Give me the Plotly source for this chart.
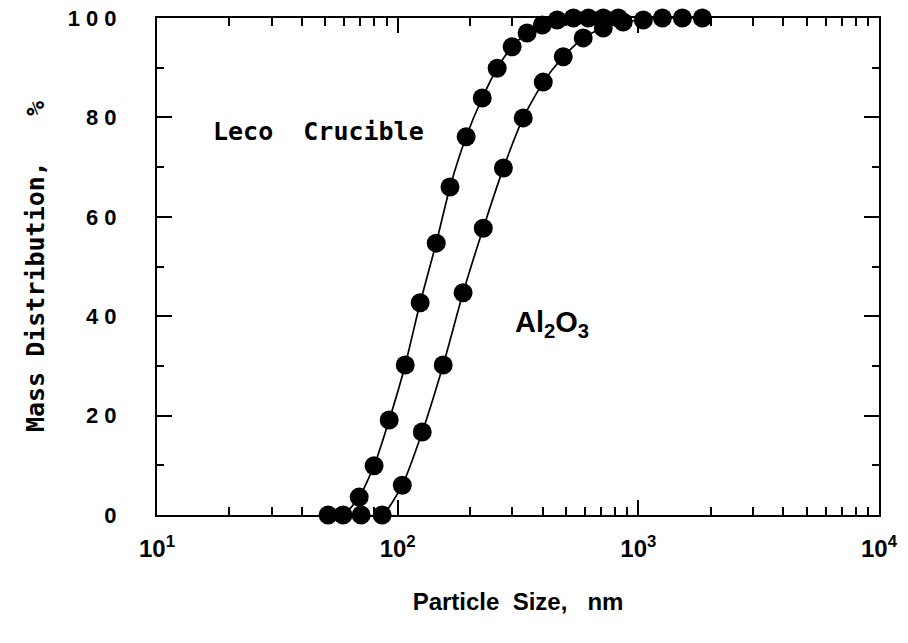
import plotly.graph_objects as go

# Leco crucible data (particle size nm, mass distribution %)
leco_size = [51.4, 59.3, 69.2, 79.8, 92.2, 107.5, 124, 144.6, 165, 192.6, 224.6, 259.1,
             299, 345, 399, 460, 537, 620, 715, 826]
leco_mass = [0, 0, 3.6, 9.9, 19.1, 30.2, 42.7, 54.7, 66, 76.1, 83.9, 89.9,
             94.2, 97.0, 98.6, 99.6, 100, 100, 100, 100]

# Al2O3 data
al_size = [70.5, 86.2, 104.5, 126.5, 154.6, 187, 226.8, 275, 332.5, 402.7, 487.6, 590,
           715, 865, 1049, 1259, 1524, 1845]
al_mass = [0, 0, 6.0, 16.7, 30.2, 44.7, 57.7, 69.8, 79.9, 87.1, 92.2, 96,
           98, 99.2, 99.6, 100, 100, 100]

x_tickvals = [10, 100, 1000, 10000]
x_ticktext = ["10<sup>1</sup>", "10<sup>2</sup>", "10<sup>3</sup>", "10<sup>4</sup>"]
y_tickvals = [0, 20, 40, 60, 80, 100]
y_ticktext = ["0", "2 0", "4 0", "6 0", "8 0", "1 0 0"]
x_minor = [d * 10 ** k for k in range(1, 4) for d in range(2, 10)]

FONT = "Liberation Sans"
WIDE = "DejaVu Sans Mono"

fig = go.Figure()
for xs, ys in [(leco_size, leco_mass), (al_size, al_mass)]:
    fig.add_trace(go.Scatter(
        x=xs, y=ys, mode="lines+markers",
        line=dict(color="black", width=1.7, shape="spline", smoothing=0.6),
        marker=dict(size=19, color="black", line=dict(width=0)),
        cliponaxis=False, showlegend=False,
    ))

fig.update_xaxes(
    type="log", range=[1, 4], automargin=False,
    tickvals=x_tickvals, ticktext=x_ticktext,
    ticks="inside", ticklen=15, tickwidth=1.5, tickcolor="black",
    minor=dict(tickvals=x_minor, ticks="inside", ticklen=8, tickwidth=1.5, tickcolor="black"),
    showline=True, linecolor="black", linewidth=2, mirror="ticks",
    showgrid=False, zeroline=False,
    tickfont=dict(family=FONT, size=24, color="black", weight=700),
    ticklabelstandoff=11, ticklabeloverflow="allow",
    title=dict(text="Particle  Size,   nm", standoff=32,
               font=dict(family=FONT, size=24, color="black", weight=700)),
)
fig.update_yaxes(
    range=[0, 100], automargin=False,
    tickvals=y_tickvals, ticktext=y_ticktext,
    ticks="inside", ticklen=15, tickwidth=1.5, tickcolor="black",
    minor=dict(dtick=10, ticks="inside", ticklen=7, tickwidth=1.5, tickcolor="black"),
    showline=True, linecolor="black", linewidth=2, mirror="ticks",
    showgrid=False, zeroline=False,
    tickfont=dict(family=FONT, size=22, color="black", weight=700),
    ticklabelstandoff=34, ticklabeloverflow="allow",
    title=dict(text="Mass Distribution,   %", standoff=16,
               font=dict(family=WIDE, size=25, color="black", weight=700)),
)

fig.add_annotation(x=0.224, y=0.771, xref="paper", yref="paper",
                   xanchor="center", yanchor="middle",
                   text="Leco  Crucible", showarrow=False,
                   font=dict(family=WIDE, size=25, color="black", weight=700))
fig.add_annotation(x=0.547, y=0.385, xref="paper", yref="paper",
                   xanchor="center", yanchor="middle",
                   text="Al<sub>2</sub>O<sub>3</sub>", showarrow=False,
                   font=dict(family=FONT, size=29, color="black", weight=700))

fig.update_layout(
    width=908, height=643,
    margin=dict(l=157, r=29, t=18, b=128),
    plot_bgcolor="white", paper_bgcolor="white",
)

fig.write_html("out.html", config={"displayModeBar": False},
               post_script="document.body.style.margin='0';document.body.style.overflow='hidden';")
